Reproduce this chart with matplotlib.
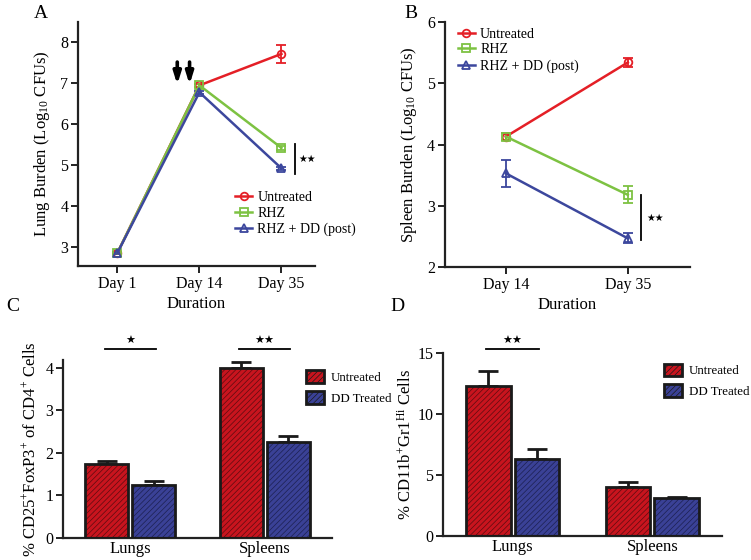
import numpy as np
import matplotlib
matplotlib.use("Agg")
import matplotlib.pyplot as plt
from matplotlib.lines import Line2D

plt.rcParams["font.family"] = ["Liberation Serif", "DejaVu Serif"]
plt.rcParams["mathtext.fontset"] = "custom"
plt.rcParams["mathtext.rm"] = "Liberation Serif"
plt.rcParams["mathtext.it"] = "Liberation Serif:italic"
plt.rcParams["hatch.linewidth"] = 0.5

# panel A - lung burden
days_a = ["Day 1", "Day 14", "Day 35"]
lung_untreated = [2.85, 6.95, 7.72]
lung_untreated_err = [0.03, 0.04, 0.22]
lung_rhz = [2.85, 6.95, 5.42]
lung_rhz_err = [0.03, 0.04, 0.05]
lung_dd = [2.85, 6.78, 4.92]
lung_dd_err = [0.03, 0.04, 0.04]

# panel B - spleen burden
days_b = ["Day 14", "Day 35"]
spleen_untreated = [4.13, 5.34]
spleen_untreated_err = [0.06, 0.08]
spleen_rhz = [4.13, 3.18]
spleen_rhz_err = [0.06, 0.14]
spleen_dd = [3.53, 2.47]
spleen_dd_err = [0.22, 0.08]

# panels C, D - bars
organs = ["Lungs", "Spleens"]
treg_untreated = [1.75, 4.0]
treg_untreated_err = [0.05, 0.14]
treg_dd = [1.25, 2.27]
treg_dd_err = [0.1, 0.12]
mdsc_untreated = [12.3, 4.0]
mdsc_untreated_err = [1.25, 0.4]
mdsc_dd = [6.3, 3.1]
mdsc_dd_err = [0.8, 0.08]

RED = "#e41f26"
GREEN = "#7dc242"
BLUE = "#3c479d"
BAR_RED = "#c8141e"
BAR_BLUE = "#3a4196"
HATCH_RED = "#5a0c10"
HATCH_BLUE = "#1c2050"

fig = plt.figure(figsize=(7.51, 5.60), dpi=100)
axA = fig.add_axes([0.1039, 0.525, 0.3156, 0.4357])
axB = fig.add_axes([0.5925, 0.523, 0.3262, 0.4377])
axC = fig.add_axes([0.0839, 0.0393, 0.3580, 0.318])
axD = fig.add_axes([0.5899, 0.0429, 0.3715, 0.327])


def style(ax):
    ax.spines["top"].set_visible(False)
    ax.spines["right"].set_visible(False)
    for s in ["left", "bottom"]:
        ax.spines[s].set_linewidth(1.6)
        ax.spines[s].set_color("#222222")
    ax.tick_params(width=1.4, length=5, labelsize=11.5, color="#222222", pad=2)


def lines(ax, x, series):
    handles = []
    for vals, errs, c, m, lab in series:
        ax.errorbar(x, vals, yerr=errs, color=c, marker=m, mfc="none", mec=c,
                    ms=5.5, mew=1.3, lw=1.8, capsize=3.5, capthick=1.3, elinewidth=1.3)
        handles.append(Line2D([], [], color=c, marker=m, mfc="none", mec=c, ms=5.5,
                              mew=1.3, lw=1.8, label=lab))
    return handles


leg_kw = dict(frameon=False, fontsize=10, handlelength=1.2, handletextpad=0.4,
              labelspacing=0.2, borderaxespad=0)

# A
style(axA)
xa = np.arange(len(days_a))
hA = lines(axA, xa, [
    (lung_untreated, lung_untreated_err, RED, "o", "Untreated"),
    (lung_rhz, lung_rhz_err, GREEN, "s", "RHZ"),
    (lung_dd, lung_dd_err, BLUE, "^", "RHZ + DD (post)"),
])
axA.set_xlim(-0.48, 2.41)
axA.set_ylim(2.53, 8.5)
axA.set_xticks(xa)
axA.set_xticklabels(days_a)
axA.set_yticks([3, 4, 5, 6, 7, 8])
axA.set_ylabel("Lung Burden (Log$_{10}$ CFUs)", fontsize=12, labelpad=6)
axA.set_xlabel("Duration", fontsize=12, labelpad=3)
for xx in [0.73, 0.88]:
    axA.annotate("", xy=(xx, 6.97), xytext=(xx, 7.52),
                 arrowprops=dict(arrowstyle="-|>,head_length=0.7,head_width=0.22",
                                 lw=2.6, color="black", shrinkA=0, shrinkB=0,
                                 mutation_scale=10))
axA.plot([2.17, 2.17], [4.78, 5.52], color="black", lw=1.3, clip_on=False)
axA.text(2.21, 5.15, "★★", fontsize=7, va="center", ha="left", family="DejaVu Sans")
axA.legend(handles=hA, loc="upper left", bbox_to_anchor=(0.64, 0.33), **leg_kw)

# B
style(axB)
xb = np.arange(len(days_b))
hB = lines(axB, xb, [
    (spleen_untreated, spleen_untreated_err, RED, "o", "Untreated"),
    (spleen_rhz, spleen_rhz_err, GREEN, "s", "RHZ"),
    (spleen_dd, spleen_dd_err, BLUE, "^", "RHZ + DD (post)"),
])
axB.set_xlim(-0.5, 1.51)
axB.set_ylim(2, 6)
axB.set_xticks(xb)
axB.set_xticklabels(days_b)
axB.set_yticks([2, 3, 4, 5, 6])
axB.set_ylabel("Spleen Burden (Log$_{10}$ CFUs)", fontsize=12, labelpad=6)
axB.set_xlabel("Duration", fontsize=12, labelpad=3)
axB.plot([1.11, 1.11], [2.44, 3.18], color="black", lw=1.3)
axB.text(1.15, 2.8, "★★", fontsize=7, va="center", ha="left", family="DejaVu Sans")
axB.legend(handles=hB, loc="upper left", bbox_to_anchor=(0.03, 1.0), **leg_kw)


def bars(ax, vals_u, err_u, vals_d, err_d):
    x = np.arange(len(organs))
    w = 0.32
    off = w / 2 + 0.015
    for pos, vals, errs, fc, hc, lab in [(x - off, vals_u, err_u, BAR_RED, HATCH_RED, "Untreated"),
                                         (x + off, vals_d, err_d, BAR_BLUE, HATCH_BLUE, "DD Treated")]:
        ax.bar(pos, vals, w, color=fc, edgecolor=hc, hatch="//////", lw=0, zorder=2)
        ax.bar(pos, vals, w, color="none", edgecolor="#1a1a1a", lw=2.0, zorder=3)
        ax.errorbar(pos, vals, yerr=[np.zeros(len(errs)), errs], fmt="none",
                    ecolor="#1a1a1a", elinewidth=2, capsize=7, capthick=2, zorder=1)
        ax.bar([0], [0], w, color=fc, edgecolor="#1a1a1a", hatch="//////", lw=2,
               label=lab)
    ax.set_xticks(x)
    ax.set_xticklabels(organs)
    ax.set_xlim(-0.5, 1.5)
    ax.tick_params(axis="x", length=0, labelsize=12)


bar_leg = dict(frameon=False, fontsize=9.3, handlelength=1.4, handleheight=1.1,
               handletextpad=0.5, labelspacing=0.55, borderaxespad=0)

# C
style(axC)
bars(axC, treg_untreated, treg_untreated_err, treg_dd, treg_dd_err)
axC.set_ylim(0, 4.19)
axC.set_yticks([0, 1, 2, 3, 4])
axC.set_ylabel("% CD25$^{+}$FoxP3$^{+}$ of CD4$^{+}$ Cells", fontsize=12, labelpad=4)
axC.plot([-0.19, 0.19], [4.45, 4.45], color="black", lw=1.3, clip_on=False)
axC.text(0.0, 4.52, "★", fontsize=8, ha="center", va="bottom", family="DejaVu Sans")
axC.plot([0.81, 1.19], [4.45, 4.45], color="black", lw=1.3, clip_on=False)
axC.text(1.0, 4.52, "★★", fontsize=8, ha="center", va="bottom", family="DejaVu Sans")
axC.legend(loc="upper left", bbox_to_anchor=(0.885, 0.97), **bar_leg)

# D
style(axD)
bars(axD, mdsc_untreated, mdsc_untreated_err, mdsc_dd, mdsc_dd_err)
axD.set_ylim(0, 15)
axD.set_yticks([0, 5, 10, 15])
axD.set_ylabel("% CD11b$^{+}$Gr1$^{\\rm Hi}$ Cells", fontsize=12, labelpad=2)
axD.plot([-0.19, 0.19], [15.3, 15.3], color="black", lw=1.3, clip_on=False)
axD.text(0.0, 15.55, "★★", fontsize=8, ha="center", va="bottom", family="DejaVu Sans")
axD.legend(loc="upper left", bbox_to_anchor=(0.775, 0.97), **bar_leg)

fig.text(0.045, 0.975, "A", fontsize=14, va="center")
fig.text(0.538, 0.975, "B", fontsize=14, va="center")
fig.text(0.008, 0.453, "C", fontsize=14, va="center")
fig.text(0.52, 0.453, "D", fontsize=14, va="center")

fig.savefig("out.png", dpi=100)
